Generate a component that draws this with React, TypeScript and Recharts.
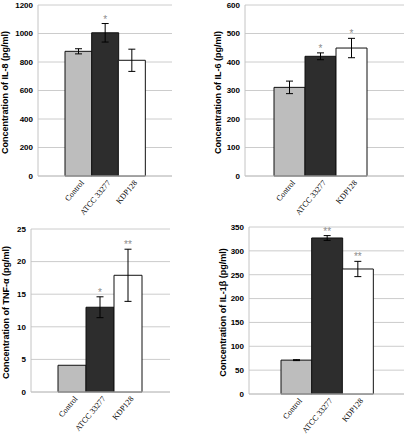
import React from "react";
import { BarChart, Bar, XAxis, YAxis, CartesianGrid, ErrorBar, Cell, LabelList } from "recharts";

const categories = ["Control", "ATCC 33277", "KDP128"];
const barColors = ["#bdbdbd", "#2d2d2d", "#ffffff"];

const il8 = [875, 1005, 812];
const il8Err = [18, 65, 78];
const il8Sig = ["", "*", ""];

const il6 = [311, 420, 449];
const il6Err = [22, 12, 34];
const il6Sig = ["", "*", "*"];

const tnf = [4.1, 13.0, 17.9];
const tnfErr = [0, 1.6, 4.0];
const tnfSig = ["", "*", "**"];

const il1b = [71, 327, 262];
const il1bErr = [1, 5, 16];
const il1bSig = ["", "**", "**"];

const sans = "'Liberation Sans', Arial, sans-serif";
const serif = "'Liberation Serif', 'Times New Roman', serif";

const CatTick = (props: any) => {
  const { x, y, payload } = props;
  return (
    <text
      transform={`translate(${x + 6},${y + 7}) rotate(-50)`}
      textAnchor="end"
      fontFamily={serif}
      fontSize={8}
      fill="#000"
    >
      {payload.value}
    </text>
  );
};

const YTitle = ({ text, tx, ty }: any) => (
  <text
    transform={`translate(${tx},${ty}) rotate(-90)`}
    textAnchor="middle"
    fontFamily={sans}
    fontWeight="bold"
    fontSize={9}
    fill="#000"
  >
    {text}
  </text>
);

function Panel(p: any) {
  const rows = categories.map((name, i) => ({
    name,
    value: p.values[i],
    err: p.errs[i],
    sig: p.sigs[i],
  }));
  const plotH = p.height - p.margin.top - p.xHeight;
  return (
    <div style={{ position: "absolute", left: p.left, top: p.top }}>
      <BarChart
        width={p.width}
        height={p.height}
        data={rows}
        margin={p.margin}
        barCategoryGap={0}
      >
        <CartesianGrid vertical={false} stroke="#cccccc" />
        <XAxis
          dataKey="name"
          height={p.xHeight}
          padding={p.pad}
          tickLine={false}
          tickSize={0}
          tickMargin={0}
          axisLine={{ stroke: "#c4c4c4" }}
          tick={<CatTick />}
          interval={0}
        />
        <YAxis
          width={p.yWidth}
          domain={p.domain}
          ticks={p.ticks}
          tickLine={false}
          tickSize={3}
          tickMargin={2}
          axisLine={{ stroke: "#c4c4c4" }}
          tick={{ fontFamily: sans, fontWeight: "bold", fontSize: 8, fill: "#000" }}
          label={<YTitle text={p.title} tx={p.titleX} ty={p.margin.top + plotH / 2 + 2} />}
        />
        <Bar dataKey="value" stroke="#111" strokeWidth={1} isAnimationActive={false}>
          {rows.map((r, i) => (
            <Cell key={r.name} fill={barColors[i]} />
          ))}
          <ErrorBar dataKey="err" width={3.5} stroke="#000" strokeWidth={1} direction="y" />
          <LabelList
            dataKey="sig"
            content={(lp: any) => {
              const d = rows[lp.index];
              if (!d || !d.sig) return null;
              const k = Number(lp.height) / d.value;
              const top = Number(lp.y) - d.err * k;
              return (
                <text
                  x={Number(lp.x) + Number(lp.width) / 2}
                  y={top - 1}
                  textAnchor="middle"
                  fontFamily={sans}
                  fontSize={10}
                  fill="#8c8c8c"
                >
                  {d.sig}
                </text>
              );
            }}
          />
        </Bar>
      </BarChart>
    </div>
  );
}

export default function App() {
  return (
    <div style={{ position: "absolute", left: 0, top: 0, width: 404, height: 434, background: "#fff" }}>
      <Panel
        left={0}
        top={0}
        width={180}
        height={220}
        margin={{ top: 5, right: 8, bottom: 0, left: 0 }}
        yWidth={38}
        xHeight={44}
        pad={{ left: 27, right: 27 }}
        domain={[0, 1200]}
        ticks={[0, 200, 400, 600, 800, 1000, 1200]}
        values={il8}
        errs={il8Err}
        sigs={il8Sig}
        title="Concentration of IL-8 (pg/ml)"
        titleX={8}
      />
      <Panel
        left={200}
        top={0}
        width={204}
        height={220}
        margin={{ top: 5, right: 0, bottom: 0, left: 0 }}
        yWidth={45}
        xHeight={44}
        pad={{ left: 29, right: 37 }}
        domain={[0, 600]}
        ticks={[0, 100, 200, 300, 400, 500, 600]}
        values={il6}
        errs={il6Err}
        sigs={il6Sig}
        title="Concentration of IL-6 (pg/ml)"
        titleX={20.5}
      />
      <Panel
        left={0}
        top={215}
        width={180}
        height={219}
        margin={{ top: 14, right: 10, bottom: 0, left: 0 }}
        yWidth={31}
        xHeight={42}
        pad={{ left: 27, right: 28 }}
        domain={[0, 25]}
        ticks={[0, 5, 10, 15, 20, 25]}
        values={tnf}
        errs={tnfErr}
        sigs={tnfSig}
        title="Concentration of TNF-α (pg/ml)"
        titleX={8.5}
      />
      <Panel
        left={200}
        top={215}
        width={204}
        height={219}
        margin={{ top: 12, right: 0, bottom: 0, left: 0 }}
        yWidth={49}
        xHeight={40}
        pad={{ left: 32, right: 31 }}
        domain={[0, 350]}
        ticks={[0, 50, 100, 150, 200, 250, 300, 350]}
        values={il1b}
        errs={il1bErr}
        sigs={il1bSig}
        title="Concentration of IL-1β (pg/ml)"
        titleX={25.5}
      />
    </div>
  );
}
